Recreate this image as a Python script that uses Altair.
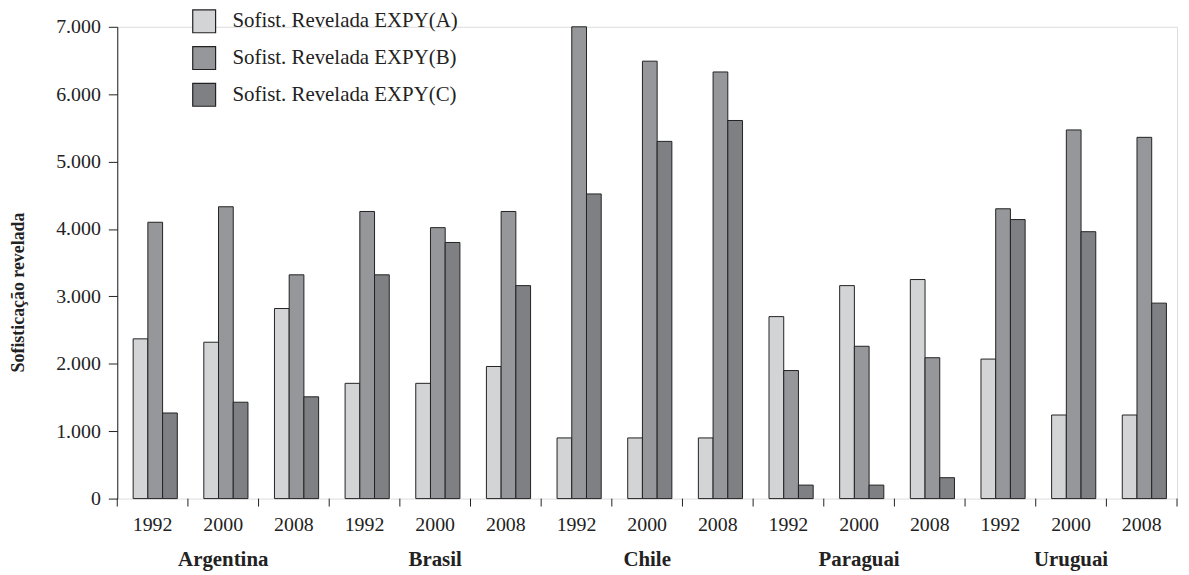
import altair as alt
import pandas as pd

countries = ["Argentina", "Brasil", "Chile", "Paraguai", "Uruguai"]
years = ["1992", "2000", "2008"]
series = ["Sofist. Revelada EXPY(A)", "Sofist. Revelada EXPY(B)", "Sofist. Revelada EXPY(C)"]
colors = ["#d3d4d6", "#96979b", "#7f8084"]

# order: Argentina 1992, 2000, 2008, Brasil ..., Uruguai 2008
expy_a = [2370, 2320, 2820, 1710, 1710, 1960, 900, 900, 900, 2700, 3160, 3250, 2070, 1240, 1240]
expy_b = [4100, 4330, 3320, 4260, 4020, 4260, 7000, 6490, 6330, 1900, 2260, 2090, 4300, 5470, 5360]
expy_c = [1270, 1430, 1510, 3320, 3800, 3160, 4520, 5300, 5610, 200, 200, 310, 4140, 3960, 2900]

cats = [f"{c}|{y}" for c in countries for y in years]

rows = []
for i, cat in enumerate(cats):
    for s, vals in zip(series, [expy_a, expy_b, expy_c]):
        rows.append({"cat": cat, "series": s, "value": vals[i]})
df = pd.DataFrame(rows)

W, H = 1067, 475
FONT = "Liberation Serif"
INK = "#222222"

xscale = alt.Scale(domain=cats, paddingInner=0, paddingOuter=0)

bars = alt.Chart(df).mark_bar(stroke=INK, strokeWidth=1).encode(
    x=alt.X("cat:N", scale=xscale, sort=cats,
            axis=alt.Axis(title=None, ticks=False, labels=False,
                          domainColor=INK)),
    xOffset=alt.XOffset("series:N", sort=series,
                        scale=alt.Scale(domain=series, paddingOuter=0.9,
                                        paddingInner=0, align=0.6)),
    y=alt.Y("value:Q",
            scale=alt.Scale(domain=[0, 7000], nice=False),
            axis=alt.Axis(values=list(range(0, 7001, 1000)),
                          labelExpr="replace(format(datum.value, ','), ',', '.')",
                          grid=False, tickSize=9, tickColor=INK,
                          domainColor=INK, labelFontSize=20,
                          labelColor=INK, labelFont=FONT, labelPadding=8,
                          title="Sofisticação revelada", titleFont=FONT,
                          titleFontSize=18, titleFontWeight="bold",
                          titleColor=INK, titleX=-99, titleY=267,
                          titleBaseline="middle")),
    color=alt.Color("series:N", sort=series,
                    scale=alt.Scale(domain=series, range=colors),
                    legend=alt.Legend(title=None, orient="none", legendX=75, legendY=-18,
                                      symbolType="square", symbolSize=530,
                                      symbolStrokeColor=INK, symbolStrokeWidth=1.2,
                                      symbolOpacity=1, labelLimit=600,
                                      labelFont=FONT, labelFontSize=21,
                                      labelColor=INK, labelOffset=16,
                                      rowPadding=8)),
)

tick_df = pd.DataFrame({"cat": cats})
ticks = alt.Chart(tick_df).mark_rule(color=INK, strokeWidth=1).encode(
    x=alt.X("cat:N", scale=xscale, sort=cats, bandPosition=0, axis=None),
    y=alt.value(H),
    y2=alt.value(H + 8),
)
end_tick = alt.Chart(pd.DataFrame({"cat": [cats[-1]]})).mark_rule(
    color=INK, strokeWidth=1).encode(
    x=alt.X("cat:N", scale=xscale, sort=cats, bandPosition=1, axis=None),
    y=alt.value(H),
    y2=alt.value(H + 8),
)

year_df = pd.DataFrame({"cat": cats, "year": [c.split("|")[1] for c in cats]})
year_text = alt.Chart(year_df).mark_text(
    font=FONT, fontSize=20, color=INK, baseline="alphabetic").encode(
    x=alt.X("cat:N", scale=xscale, sort=cats, axis=None),
    y=alt.value(H + 33),
    text="year:N",
)

country_df = pd.DataFrame({"country": countries,
                           "cat": [f"{c}|2000" for c in countries]})
country_text = alt.Chart(country_df).mark_text(
    font=FONT, fontSize=21, fontWeight="bold", color=INK,
    baseline="alphabetic").encode(
    x=alt.X("cat:N", scale=xscale, sort=cats, axis=None),
    y=alt.value(H + 68),
    text="country:N",
)

chart = alt.layer(bars, ticks, end_tick, year_text, country_text).properties(
    width=W, height=H,
    autosize=alt.AutoSizeParams(type="none"),
    padding={"left": 110, "top": 17, "right": 4, "bottom": 75},
).configure_view(stroke=None).configure(background="white")

chart.save("out.html", embed_options={"renderer": "svg", "actions": False})
